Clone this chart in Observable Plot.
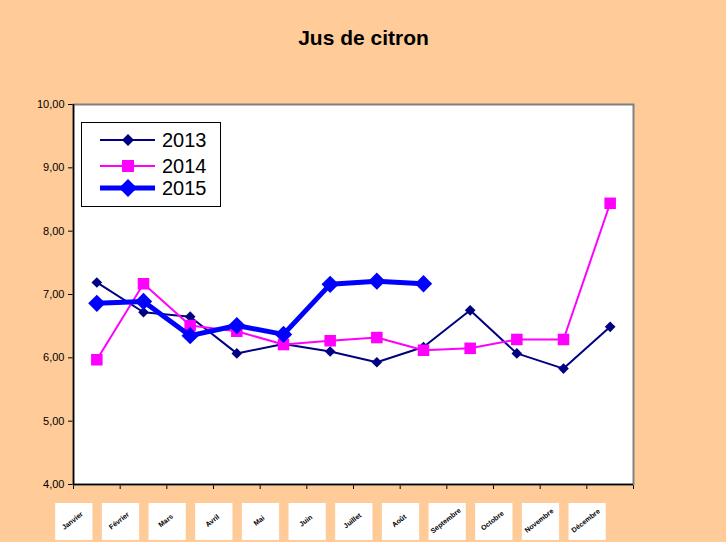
<!DOCTYPE html>
<html><head><meta charset="utf-8">
<script src="https://cdn.jsdelivr.net/npm/d3@7"></script>
<script src="https://cdn.jsdelivr.net/npm/@observablehq/plot@0.6"></script>
<style>
html,body{margin:0;padding:0;background:#FFCC99;}
#wrap{position:relative;width:726px;height:542px;overflow:hidden;font-family:"Liberation Sans",Arial,sans-serif;}
#legend{position:absolute;left:81px;top:122px;width:140px;height:85px;background:#fff;border:1px solid #000;box-sizing:border-box;}
#legend svg{display:block;}
</style></head><body><div id="wrap"></div>
<script>
const months = ["Janvier","Février","Mars","Avril","Mai","Juin","Juillet","Août","Septembre","Octobre","Novembre","Décembre"];
const v2013 = [7.19,6.72,6.65,6.07,6.22,6.10,5.93,6.17,6.75,6.07,5.83,6.49];
const v2014 = [5.97,7.17,6.51,6.42,6.21,6.27,6.32,6.12,6.15,6.29,6.29,8.44];
const v2015 = [6.86,6.89,6.35,6.51,6.37,7.16,7.21,7.17];
const yTicks = [4,5,6,7,8,9,10];
const seriesNames = ["2013","2014","2015"];
const seriesColors = ["#000080","#FF00FF","#0000FF"];

const toRows = (vals, year) => vals.map((v,i) => ({m: i+1, month: months[i], year, value: v}));
const r2013 = toRows(v2013, "2013");
const r2014 = toRows(v2014, "2014");
const r2015 = toRows(v2015, "2015");
const monthRows = months.map((m,i) => ({m: i+1, month: m}));
const fmt = d => d.toFixed(2).replace(".", ",");

const chart = Plot.plot({
  width: 726, height: 542,
  marginLeft: 73, marginRight: 93, marginTop: 104, marginBottom: 58,
  style: {background: "transparent", fontFamily: "Liberation Sans, Arial, sans-serif", fontSize: "11px", color: "#000"},
  x: {domain: [0.5, 12.5], ticks: d3.range(0.5, 13, 1), tickFormat: () => "", tickSize: 5, label: null},
  y: {domain: [4, 10], ticks: yTicks, tickFormat: fmt, tickSize: 5, tickPadding: 4, label: null},
  marks: [
    Plot.frame({fill: "white", stroke: "#808080", strokeWidth: 2}),
    Plot.ruleX([0.5], {stroke: "black", strokeWidth: 1.5}),
    Plot.ruleY([4], {stroke: "black", strokeWidth: 1.5}),
    Plot.line(r2013, {x: "m", y: "value", stroke: seriesColors[0], strokeWidth: 2}),
    Plot.dot(r2013, {x: "m", y: "value", symbol: "diamond2", r: 4.8, fill: seriesColors[0], stroke: "none"}),
    Plot.line(r2014, {x: "m", y: "value", stroke: seriesColors[1], strokeWidth: 2}),
    Plot.dot(r2014, {x: "m", y: "value", symbol: "square", r: 6.5, fill: seriesColors[1], stroke: "none"}),
    Plot.line(r2015, {x: "m", y: "value", stroke: seriesColors[2], strokeWidth: 5}),
    Plot.dot(r2015, {x: "m", y: "value", symbol: "diamond2", r: 7.8, fill: seriesColors[2], stroke: "none"}),
    Plot.dot(monthRows, {x: "m", frameAnchor: "bottom", dx: -23, dy: 37, symbol: "square", r: 21, fill: "white", stroke: "none"}),
    Plot.text(monthRows, {x: "m", text: "month", frameAnchor: "bottom", dx: -23, dy: 38, rotate: -38, fontSize: 7, fontWeight: "bold", fill: "black"}),
    Plot.text(["Jus de citron"], {frameAnchor: "top", lineAnchor: "middle", dx: 10, dy: -66, fontSize: 21, fontWeight: "bold", fill: "black"})
  ]
});
const wrap = document.getElementById("wrap");
wrap.appendChild(chart);

// legend
const leg = document.createElement("div");
leg.id = "legend";
const rowsY = [17, 43, 65];
let s = `<svg width="138" height="83" viewBox="0 0 138 83">`;
const sym = [
  (x,y,c) => `<path d="M${x},${y-6}L${x+6},${y}L${x},${y+6}L${x-6},${y}Z" fill="${c}"/>`,
  (x,y,c) => `<rect x="${x-6}" y="${y-6}" width="12" height="12" fill="${c}"/>`,
  (x,y,c) => `<path d="M${x},${y-9}L${x+9},${y}L${x},${y+9}L${x-9},${y}Z" fill="${c}"/>`
];
const widths = [2, 2, 5];
seriesNames.forEach((n, i) => {
  const y = rowsY[i];
  s += `<line x1="18" x2="73" y1="${y}" y2="${y}" stroke="${seriesColors[i]}" stroke-width="${widths[i]}"/>`;
  s += sym[i](46, y, seriesColors[i]);
  s += `<text x="80" y="${y+7}" font-size="20" font-family="Liberation Sans, Arial, sans-serif" fill="#000">${n}</text>`;
});
s += `</svg>`;
leg.innerHTML = s;
wrap.appendChild(leg);
</script>
</body></html>
